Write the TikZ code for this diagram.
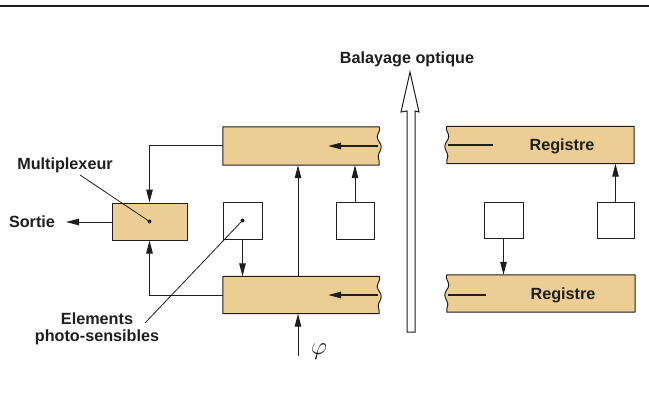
\documentclass[tikz,border=0pt]{standalone}
\usepackage{fontspec}
\setmainfont{Liberation Sans}
\usetikzlibrary{arrows.meta,calc}
\definecolor{tan}{RGB}{236,206,148}
\definecolor{ink}{RGB}{30,30,30}
\tikzset{
  lbl/.style={font=\fontsize{16.2}{18}\selectfont\bfseries, text=ink, inner sep=0pt},
  regbox/.style={minimum width=#1, inner sep=0pt, draw=none},
  sq/.style={draw=ink, line width=1pt, fill=white, inner sep=0pt},
  muxbox/.style={draw=ink, line width=1pt, fill=tan, inner sep=0pt, minimum width=75pt, minimum height=37pt},
  regline/.style={draw=ink, line width=1pt, fill=tan, line join=round},
  arr/.style={draw=ink, line width=1pt, -{Triangle[length=13pt,width=6.5pt]}},
  conn/.style={draw=ink, line width=1pt},
}
\newcommand\cutright[1]{%
  \path[regline] (#1.south west) -- (#1.north west) -- (#1.north east)
    .. controls +(2,3) and +(0,-3) .. ([shift={(-2,10)}]#1.north east)
    .. controls +(0,4) and +(0,-4) .. ([shift={(2,20)}]#1.north east)
    .. controls +(0,4) and +(0,-4) .. ([shift={(-1,30)}]#1.north east)
    .. controls +(0,3) and +(1,-3) .. (#1.south east) -- cycle;}
\newcommand\cutleft[1]{%
  \path[regline] (#1.south east) -- (#1.north east) -- (#1.north west)
    .. controls +(-2,3) and +(0,-3) .. ([shift={(2,10)}]#1.north west)
    .. controls +(0,4) and +(0,-4) .. ([shift={(-2,20)}]#1.north west)
    .. controls +(0,4) and +(0,-4) .. ([shift={(1,30)}]#1.north west)
    .. controls +(0,3) and +(-1,-3) .. (#1.south west) -- cycle;}
\begin{document}
\begin{tikzpicture}[x=1pt,y=-1pt]
\useasboundingbox (0,0) rectangle (649,404);
\fill[white] (0,0) rectangle (649,404);
% top rule
\coordinate (ruleL) at (0,6);
\coordinate (ruleR) at (649,6);
\draw[ink, line width=2.5pt] (ruleL) -- (ruleR);

% registers (anchors)
\node[regbox=156pt, minimum height=38pt] (regTL) at (301,146) {};
\node[regbox=156pt, minimum height=37pt] (regBL) at (301,295) {};
\node[regbox=187pt, minimum height=37pt] (regTR) at (540.5,145) {};
\node[regbox=188pt, minimum height=37pt] (regBR) at (541,293.5) {};
\cutright{regTL}
\cutright{regBL}
\cutleft{regTR}
\cutleft{regBR}

% multiplexer and photo elements
\node[muxbox] (mux) at (149.5,221.5) {};
\node[sq, minimum width=39pt, minimum height=37pt] (sqL) at (242.5,220.5) {};
\node[sq, minimum width=38pt, minimum height=37pt] (sqM) at (355,220.5) {};
\node[sq, minimum width=39pt, minimum height=36pt] (sqR1) at (503.5,220) {};
\node[sq, minimum width=37pt, minimum height=36pt] (sqR2) at (615.5,220) {};
\fill[ink] (mux.center) circle (2pt);
\fill[ink] (sqL.center) circle (2pt);

% labels
\node[lbl] (tBal) at (407,59) {Balayage optique};
\node[lbl] (tMux) at (65,165) {Multiplexeur};
\node[lbl] (tSortie) at (32,222) {Sortie};
\node[lbl, align=center] (tElem) at (97,329) {Elements\\[-1pt]photo-sensibles};
\node[lbl] (tReg1) at (562,146) {Registre};
\node[lbl] (tReg2) at (563,295) {Registre};
\node[text=ink, inner sep=0pt, font=\fontsize{24}{26}\selectfont] (tPhi) at (319,352) {$\varphi$};

% hollow scanning arrow
\coordinate (scanT) at (410,72);
\draw[ink, line width=1pt, fill=white, line join=miter]
  (407,332) -- (407,111) -- (401,112) -- (scanT) -- (419,112) -- (415,111) -- (415,332) -- cycle;

% connectors
\draw[arr] (regTL.west) -| (mux.north);
\draw[arr] (regBL.west) -| (mux.south);
\coordinate (sortieEnd) at (66,222);
\draw[arr] (mux.west |- sortieEnd) -- (sortieEnd);
\draw[arr] (sqL.south) -- (sqL.south |- regBL.north);
\draw[arr] ([xshift=-3pt]regBL.north) -- ([xshift=-3pt]regTL.south);
\coordinate (phiS) at (298,356);
\draw[arr] (phiS) -- (phiS |- regBL.south);
\draw[arr] (sqM.north) -- (sqM.north |- regTL.south);
\draw[arr] (sqR1.south) -- (sqR1.south |- regBR.north);
\draw[arr] (sqR2.north) -- (sqR2.north |- regTR.south);

% internal register arrows / lines
\draw[arr, line width=1.3pt] ([xshift=-1pt]regTL.east) -- ++(-50,0);
\draw[arr, line width=1.3pt] ([xshift=-1pt]regBL.east) -- ++(-50,0);
\draw[conn, line width=1.3pt] ([xshift=1pt]regTR.west) -- ++(45,0);
\draw[conn, line width=1.3pt] ([xshift=1pt,yshift=-1.5pt]regBR.west) -- ++(38,0);

% leader lines
\coordinate (mLead) at (80,175);
\draw[conn, line width=0.8pt] (mLead) -- (mux.center);
\coordinate (eLead) at (145,323);
\draw[conn, line width=0.8pt] (eLead) -- (sqL.center);
\end{tikzpicture}
\end{document}
